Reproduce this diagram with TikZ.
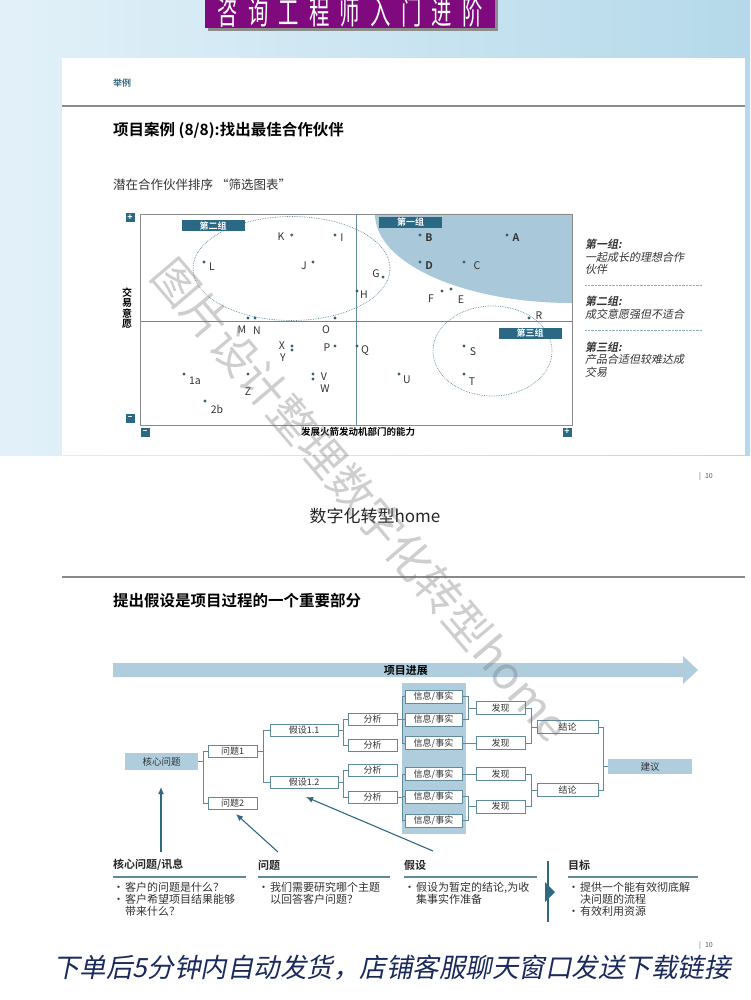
\documentclass[tikz,border=0pt]{standalone}
\usepackage{fontspec}
\setmainfont{Noto Sans CJK SC}[BoldFont={Noto Sans CJK SC Bold}]
\newfontfamily\slantfont{Noto Sans CJK SC}[FakeSlant=0.2, BoldFont={Noto Sans CJK SC Bold}]
\newfontfamily\bannerfont{Noto Sans CJK SC}[LetterSpace=50]
\usetikzlibrary{arrows.meta}

\definecolor{bgL}{HTML}{E2F1F9}
\definecolor{bgR}{HTML}{B5D9EA}
\definecolor{banner}{HTML}{7E0A7E}
\definecolor{headc}{HTML}{3D6A80}
\definecolor{tagc}{HTML}{2B6884}
\definecolor{grpc}{HTML}{A9C9DA}
\definecolor{barc}{HTML}{AFCDDD}
\definecolor{linec}{HTML}{5F8A9C}
\definecolor{framec}{HTML}{8A8A8A}
\definecolor{dotc}{HTML}{3A5F70}
\definecolor{txtc}{HTML}{333333}
\definecolor{navy}{HTML}{1B2A5C}
\definecolor{arrc}{HTML}{2F6A80}

\newcommand{\fs}[1]{\fontsize{#1}{\dimexpr #1pt*115/100\relax}\selectfont}

\begin{document}
\begin{tikzpicture}[
  x=1pt, y=-1pt,
  >={Latex[length=7pt,width=6pt]},
  frame/.style={draw=framec, line width=0.9},
  axisln/.style={linec, line width=0.7},
  grpring/.style={linec, densely dotted, line width=0.7},
  grptag/.style={fill=tagc, text=white, font=\fs{9}\bfseries, minimum width=63, minimum height=11, inner sep=0},
  pmbox/.style={fill=tagc, text=white, font=\fs{9}\bfseries, minimum size=9, inner sep=0},
  ptlbl/.style={font=\fs{10.5}, text=txtc, inner sep=0},
  lgd/.style={anchor=west, font=\slantfont\fs{11}, text=txtc, inner sep=0},
  treebox/.style={draw=linec, fill=white, line width=0.6, inner sep=0, minimum height=12,
                  font=\fs{9}, text=txtc},
  fillbox/.style={fill=barc, inner sep=0, font=\fs{9.5}, text=txtc},
  link/.style={linec, line width=0.7},
  colhead/.style={anchor=west, font=\fs{11}\bfseries, text=black!85, inner sep=0},
  bullet/.style={anchor=north west, font=\fontsize{11}{12}\selectfont, text=txtc, inner sep=0, align=left},
  rule/.style={linec, line width=1.2},
  pointer/.style={->, arrc, line width=1.1},
  pgnum/.style={anchor=west, font=\fs{7}, text=txtc!80, inner sep=0},
]
\useasboundingbox (0,0) rectangle (750,1000);
\fill[white] (0,0) rectangle (750,1000);

% ── Top banner and backdrop ───────────────────────────────────────────────────
\shade[left color=bgL, right color=bgR] (0,0) rectangle (750,455);
\fill[black!45] (208,-5) rectangle (498,31);
\fill[banner] (205,-5) rectangle (495,28);
\node[text=white, font=\bannerfont\fs{24}, yscale=1.35, xscale=0.85] (bantitle) at (350,12) {咨询工程师入门进阶};

% ── Slide 1: partner screening chart ─────────────────────────────────────────
\fill[white] (62,58) rectangle (745,455);
\draw[framec, line width=1.2] (62,106) -- (745,106);
\node[anchor=west, font=\fs{9}\bfseries, text=headc, inner sep=0] (tag1) at (113,83) {举例};
\node[anchor=west, font=\fs{15.5}\bfseries, inner sep=0] (title1) at (113,130) {项目案例 (8/8):找出最佳合作伙伴};
\node[anchor=west, font=\fs{12.5}, text=txtc, inner sep=0] (sub1) at (113,185) {潜在合作伙伴排序 “筛选图表”};

% chart limits
\def\cxl{140} \def\cxr{572} \def\cyt{214} \def\cyb{425}
\def\cxm{356} \def\cym{321}

% group 1 region (top right)
\fill[grpc] (375,\cyt) arc[start angle=180, end angle=90, x radius=197, y radius=89]
  -- (\cxr,\cyt) -- cycle;
\draw[axisln] (\cxm,\cyt) -- (\cxm,\cyb);
\draw[axisln] (\cxl,\cym) -- (\cxr,\cym);
\draw[frame] (\cxl,\cyt) rectangle (\cxr,\cyb);

% groups 2 and 3
\draw[grpring] (291.5,268.5) ellipse [x radius=98.5, y radius=52];
\draw[grpring] (492.5,351) ellipse [x radius=59.5, y radius=45];
\node[grptag] (tagA) at (410.5,222.5) {第一组};
\node[grptag] (tagB) at (213,226) {第二组};
\node[grptag] (tagC) at (530,333) {第三组};

% axis ends
\node[pmbox] (pmYt) at (130,218) {+};
\node[pmbox] (pmYb) at (130,418) {–};
\node[pmbox] (pmXl) at (145,432) {–};
\node[pmbox] (pmXr) at (567,432) {+};
\node[font=\fontsize{10}{10.5}\selectfont\bfseries, align=center, inner sep=0] (ylbl) at (127,308)
  {交\\易\\意\\愿};
\node[font=\fs{9.5}\bfseries, inner sep=0] (xlbl) at (358,432) {发展火箭发动机部门的能力};

% partners
\fill[dotc] (420,235) circle (1.7) node[ptlbl, font=\fs{10.5}\bfseries] (pB) at (429,238) {B};
\fill[dotc] (507,235) circle (1.7) node[ptlbl, font=\fs{10.5}\bfseries] (pA) at (516,238) {A};
\fill[dotc] (420,262) circle (1.7) node[ptlbl, font=\fs{10.5}\bfseries] (pD) at (429,266) {D};
\fill[dotc] (464,262) circle (1.7) node[ptlbl] (pC) at (477,266) {C};
\fill[dotc] (442,291) circle (1.7) node[ptlbl] (pF) at (431,299) {F};
\fill[dotc] (451,289) circle (1.7) node[ptlbl] (pE) at (461,300) {E};
\fill[dotc] (529,318) circle (1.7) node[ptlbl] (pR) at (539,316) {R};
\fill[dotc] (464,346) circle (1.7) node[ptlbl] (pS) at (473,352) {S};
\fill[dotc] (464,374) circle (1.7) node[ptlbl] (pT) at (472,382) {T};
\fill[dotc] (399,374) circle (1.7) node[ptlbl] (pU) at (407,380) {U};
\fill[dotc] (383,277) circle (1.7) node[ptlbl] (pG) at (376,274) {G};
\fill[dotc] (357,291) circle (1.7) node[ptlbl] (pH) at (364,295) {H};
\fill[dotc] (357,346) circle (1.7) node[ptlbl] (pQ) at (365,351) {Q};
\fill[dotc] (291.7,235) circle (1.7) node[ptlbl] (pK) at (281,237) {K};
\fill[dotc] (335,235) circle (1.7) node[ptlbl] (pI) at (342,238) {I};
\fill[dotc] (204,262) circle (1.7) node[ptlbl] (pL) at (212,267) {L};
\fill[dotc] (313,262) circle (1.7) node[ptlbl] (pJ) at (304,266) {J};
\fill[dotc] (248,318) circle (1.7) node[ptlbl] (pM) at (242,330) {M};
\fill[dotc] (255,318) circle (1.7) node[ptlbl] (pN) at (257,331) {N};
\fill[dotc] (335,318) circle (1.7) node[ptlbl] (pO) at (326,330) {O};
\fill[dotc] (292,346) circle (1.7) node[ptlbl] (pX) at (282,346) {X};
\fill[dotc] (292,350) circle (1.7) node[ptlbl] (pY) at (283,358) {Y};
\fill[dotc] (335,346) circle (1.7) node[ptlbl] (pP) at (327,348) {P};
\fill[dotc] (184,374) circle (1.7) node[ptlbl] (p1a) at (195,381) {1a};
\fill[dotc] (248,374) circle (1.7) node[ptlbl] (pZ) at (248,392) {Z};
\fill[dotc] (313,374) circle (1.7) node[ptlbl] (pV) at (324,377) {V};
\fill[dotc] (313,379) circle (1.7) node[ptlbl] (pW) at (325,389) {W};
\fill[dotc] (205,401) circle (1.7) node[ptlbl] (p2b) at (217,409) {2b};

% legend
\node[lgd, font=\slantfont\fs{11}\bfseries] (lg1) at (585,244) {第一组:};
\node[lgd] (lg1a) at (585,257) {一起成长的理想合作};
\node[lgd] (lg1b) at (585,269) {伙伴};
\draw[linec!70, densely dotted] (585,285) -- (702,285);
\node[lgd, font=\slantfont\fs{11}\bfseries] (lg2) at (585,301) {第二组:};
\node[lgd] (lg2a) at (585,314) {成交意愿强但不适合};
\draw[linec!70, densely dotted] (585,330) -- (702,330);
\node[lgd, font=\slantfont\fs{11}\bfseries] (lg3) at (585,347) {第三组:};
\node[lgd] (lg3a) at (585,359) {产品合适但较难达成};
\node[lgd] (lg3b) at (585,372) {交易};

\node[pgnum] (pg1) at (699,477) {|\hspace{4pt}10};
\node[font=\fs{17}, text=black!85, inner sep=0] (mid) at (375,516) {数字化转型home};

% ── Slide 2: hypothesis tree ─────────────────────────────────────────────────
\draw[framec, line width=1.2] (62,577) -- (745,577);
\node[anchor=west, font=\fs{15.5}\bfseries, inner sep=0] (title2) at (113,601) {提出假设是项目过程的一个重要部分};

% progress bar
\fill[barc] (113,663) -- (683,663) -- (683,656) -- (698,670) -- (683,684) -- (683,677)
  -- (113,677) -- cycle;
\node[anchor=east, font=\fs{11}\bfseries, inner sep=0] (prog) at (428,670) {项目进展};

% fact panel
\fill[barc] (402,683) rectangle (466,834);

\node[fillbox, minimum width=73, minimum height=17] (core) at (161.5,761.5) {核心问题};
\node[treebox, minimum width=49] (q1) at (232.5,751.5) {问题1};
\node[treebox, minimum width=49] (q2) at (232.5,803) {问题2};
\node[treebox, minimum width=68] (h11) at (304,730.5) {假设1.1};
\node[treebox, minimum width=68] (h12) at (304,782) {假设1.2};
\node[treebox, minimum width=49] (a1) at (372.5,719) {分析};
\node[treebox, minimum width=49] (a2) at (372.5,745) {分析};
\node[treebox, minimum width=49] (a3) at (372.5,770) {分析};
\node[treebox, minimum width=49] (a4) at (372.5,797) {分析};
\node[treebox, minimum width=57, minimum height=13] (i1) at (433.5,696.5) {信息/事实};
\node[treebox, minimum width=57, minimum height=13] (i2) at (433.5,719.5) {信息/事实};
\node[treebox, minimum width=57, minimum height=13] (i3) at (433.5,743) {信息/事实};
\node[treebox, minimum width=57, minimum height=13] (i4) at (433.5,774) {信息/事实};
\node[treebox, minimum width=57, minimum height=13] (i5) at (433.5,796.5) {信息/事实};
\node[treebox, minimum width=57, minimum height=13] (i6) at (433.5,820.5) {信息/事实};
\node[treebox, minimum width=49, minimum height=13] (f1) at (500.5,708) {发现};
\node[treebox, minimum width=49, minimum height=13] (f2) at (500.5,743) {发现};
\node[treebox, minimum width=49, minimum height=13] (f3) at (500.5,774) {发现};
\node[treebox, minimum width=49, minimum height=13] (f4) at (500.5,806.5) {发现};
\node[treebox, minimum width=61, minimum height=13] (c1) at (567.5,727) {结论};
\node[treebox, minimum width=61, minimum height=13] (c2) at (567.5,790) {结论};
\node[fillbox, minimum width=84, minimum height=15] (rec) at (650,766.5) {建议};

\draw[link] (core.east) -- ++(5,0) coordinate (jc) |- (q1.west);
\draw[link] (jc) |- (q2.west);
\draw[link] (q1.east) -- ++(6,0) coordinate (jq) |- (h11.west);
\draw[link] (jq) |- (h12.west);
\draw[link] (h11.east) -- ++(5,0) coordinate (jh1) |- (a1.west);
\draw[link] (jh1) |- (a2.west);
\draw[link] (h12.east) -- ++(5,0) coordinate (jh2) |- (a3.west);
\draw[link] (jh2) |- (a4.west);
\draw[link] (a1.east) -- ++(5,0) coordinate (ja1) |- (i1.west);
\draw[link] (ja1) |- (i2.west);
\draw[link] (ja1) |- (i3.west);
\draw[link] (a4.east) -- ++(5,0) coordinate (ja4) |- (i4.west);
\draw[link] (ja4) |- (i5.west);
\draw[link] (ja4) |- (i6.west);
\draw[link] (i1.east) -- ++(6,0) |- (f1.west);
\draw[link] (i2.east) -- ++(6,0) |- (f1.west);
\draw[link] (i3.east) -- (f2.west);
\draw[link] (i4.east) -- (f3.west);
\draw[link] (i5.east) -- ++(6,0) |- (f4.west);
\draw[link] (i6.east) -- ++(6,0) |- (f4.west);
\draw[link] (f1.east) -- ++(6,0) |- (c1.west);
\draw[link] (f2.east) -- ++(6,0) |- (c1.west);
\draw[link] (f3.east) -- ++(6,0) |- (c2.west);
\draw[link] (f4.east) -- ++(6,0) |- (c2.west);
\draw[link] (c1.east) -- ++(5,0) |- (rec.west);
\draw[link] (c2.east) -- ++(5,0) |- (rec.west);

% ── Slide 2: explanation columns ─────────────────────────────────────────────
\coordinate (tailA) at (161,852);  \coordinate (tipA) at (161,787);
\coordinate (tailB) at (278,852);  \coordinate (tipB) at (236,814);
\coordinate (tailC) at (433,851);  \coordinate (tipC) at (306,797);
\draw[pointer] (tailA) -- (tipA);
\draw[pointer] (tailB) -- (tipB);
\draw[pointer] (tailC) -- (tipC);

\node[colhead] (hd1) at (113,865) {核心问题/讯息};
\draw[rule] (113,877) -- (246,877);
\node[bullet] (b1) at (113,882) {•\hspace{1pt}客户的问题是什么？\\•\hspace{1pt}客户希望项目结果能够\\\hspace{12pt}带来什么？};

\node[colhead] (hd2) at (258,865) {问题};
\draw[rule] (258,877) -- (390,877);
\node[bullet] (b2) at (258,882) {•\hspace{1pt}我们需要研究哪个主题\\\hspace{12pt}以回答客户问题？};

\node[colhead] (hd3) at (404,865) {假设};
\draw[rule] (404,877) -- (537,877);
\node[bullet] (b3) at (404,882) {•\hspace{1pt}假设为暂定的结论,为收\\\hspace{12pt}集事实作准备};

\draw[arrc, line width=1.1] (548,861) -- (548,922);
\fill[arrc] (545,882) -- (555,892) -- (545,902) -- cycle;

\node[colhead] (hd4) at (568,865) {目标};
\draw[rule] (568,877) -- (698,877);
\node[bullet] (b4) at (568,882) {•\hspace{1pt}提供一个能有效彻底解\\\hspace{12pt}决问题的流程\\•\hspace{1pt}有效利用资源};

\node[pgnum] (pg2) at (699,946) {|\hspace{4pt}10};

% ── Footer and watermark ─────────────────────────────────────────────────────
\node[font=\slantfont\fs{26.5}, text=navy, inner sep=0] (footer) at (392,968)
  {下单后5分钟内自动发货，店铺客服聊天窗口发送下载链接};
\node[font=\fs{45}, text=black!55, opacity=0.35, rotate=-49.6, inner sep=0] (wmark) at (362,500)
  {图片设计整理数字化转型home};

\end{tikzpicture}
\end{document}
